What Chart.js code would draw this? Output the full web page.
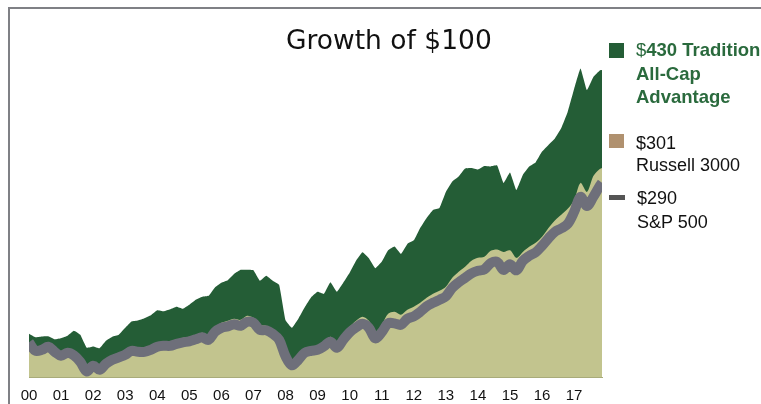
<!DOCTYPE html>
<html>
<head>
<meta charset="utf-8">
<script src="https://cdn.jsdelivr.net/npm/chart.js@4"></script>
<style>
    body { margin: 0; background: #fff; }
    #wrap { position: relative; width: 761px; height: 404px; overflow: hidden; }
    #frame { position: absolute; left: 8px; top: 7px; right: -4px; bottom: -4px;
             border-top: 2px solid #7f8085; border-left: 2px solid #7f8085; }
    canvas { position: absolute; left: 0; top: 0; }
    #title { position: absolute; left: 286px; top: 24px; width: 200px; text-align: center;
             font-family: "DejaVu Sans", sans-serif; font-size: 26.5px; color: #111;
             white-space: nowrap; line-height: 32px; }
    .sw { position: absolute; left: 609px; }
    .lg { position: absolute; left: 636px; font-family: "Liberation Sans", Arial, sans-serif;
          font-size: 18px; white-space: nowrap; color: #111; }
</style>
</head>
<body>
<div id="wrap">
    <div id="frame"></div>
    <canvas id="growthChart" width="761" height="404"></canvas>
    <div id="title">Growth of $100</div>

    <div class="sw" style="top:43px;width:15px;height:15px;background:#245d36"></div>
    <div class="lg" style="top:38px;line-height:23.5px;color:#2a6a3d;font-weight:bold;font-size:18.5px">
        <span style="font-weight:normal">$</span>430 Tradition<br>All-Cap<br>Advantage
    </div>

    <div class="sw" style="top:134px;width:15px;height:14px;background:#b0916f"></div>
    <div class="lg" style="top:132px;line-height:22px">$301<br>Russell 3000</div>

    <div class="sw" style="top:195px;width:16px;height:5px;background:#555"></div>
    <div class="lg" style="top:186px;left:637px;line-height:24px">$290<br>S&amp;P 500</div>
</div>

<script>
// years since 2000 (x positions)
const dates = [0, 0.2, 0.4, 0.6, 0.8, 1, 1.2, 1.4, 1.6, 1.8,
    2, 2.2, 2.4, 2.6, 2.8, 3, 3.2, 3.4, 3.6, 3.8,
    4, 4.2, 4.4, 4.6, 4.8, 5, 5.2, 5.4, 5.6, 5.8,
    6, 6.2, 6.4, 6.6, 6.8, 7, 7.2, 7.4, 7.6, 7.8,
    8, 8.2, 8.4, 8.6, 8.8, 9, 9.2, 9.4, 9.6, 9.8,
    10, 10.2, 10.4, 10.6, 10.8, 11, 11.2, 11.4, 11.6, 11.8,
    12, 12.2, 12.4, 12.6, 12.8, 13, 13.2, 13.4, 13.6, 13.8,
    14, 14.2, 14.4, 14.6, 14.8, 15, 15.2, 15.4, 15.6, 15.8,
    16, 16.2, 16.4, 16.6, 16.8, 17, 17.2, 17.4, 17.6, 17.8, 17.87];

const yearTicks = ['00', '01', '02', '03', '04', '05', '06', '07', '08',
    '09', '10', '11', '12', '13', '14', '15', '16', '17'];

// Tradition All-Cap Advantage
const tradition = [100, 95.6, 96.6, 96.9, 93.1, 94.4, 97.5, 103.8, 98.8, 82.5,
    84.1, 81.9, 91.3, 96.3, 98.8, 107.5, 115.4, 116.6, 119.4, 123.1,
    129.4, 128.1, 130.6, 133.8, 131.3, 136.3, 142.5, 146.3, 147.5, 158.1,
    163.8, 166.9, 175, 180, 180, 179.4, 166.3, 172.5, 166.3, 161.3,
    116.9, 107.5, 118.8, 133.1, 145.6, 152.5, 150, 164.4, 152.5, 163.8,
    176.3, 191.3, 201.9, 194.4, 181.9, 190, 204.4, 209.1, 200, 212.5,
    216.9, 232.5, 245, 255, 257.5, 277.5, 290.6, 296.9, 306.9, 307.5,
    305.6, 310, 309.4, 310.6, 288.8, 301.9, 280, 298.8, 309.4, 314.4,
    327.9, 336.3, 344.4, 357.5, 377.5, 406.3, 432, 405, 421.3, 429.4, 430];

// Russell 3000
const russell = [87.5, 81.3, 82.5, 86.3, 80, 75, 78.8, 76.3, 67.5, 56.3,
    62.5, 57.5, 65, 70, 73.8, 77.5, 82.5, 81.3, 82.5, 85,
    88.8, 90, 90, 92.5, 95, 96.3, 98.8, 101.3, 98.8, 108.1,
    113.8, 116.3, 118.8, 117.5, 122.5, 120, 111.3, 110, 105, 97.5,
    76.3, 65, 71.3, 81.3, 83.8, 85, 90, 96.3, 88.8, 98.8,
    108.8, 116.3, 121.3, 116.3, 102.5, 111.3, 125, 127.5, 123.8, 130,
    133.8, 138.8, 145, 150, 153.8, 158.8, 170, 177.5, 183.8, 191.3,
    195, 196.3, 203.8, 205.6, 202.5, 204.4, 195, 202.5, 208.8, 213.8,
    221.3, 232.5, 241.9, 248.8, 256.3, 267.5, 288.8, 277.5, 297.5, 306.3, 307.5];

// S&P 500
const sp500 = [89.4, 78.8, 80, 83.8, 77.5, 72.5, 76.3, 73.1, 65, 52.9,
    60, 55, 62.5, 67.5, 70.6, 73.8, 78.8, 77.5, 77.5, 80,
    83.8, 85, 85, 87.5, 89.4, 90.6, 93.1, 95.6, 92.5, 102.5,
    107.5, 109.4, 111.9, 110, 115, 113.8, 105, 104.4, 100, 92.5,
    71.9, 60.6, 67.5, 76.3, 78.8, 80, 84.4, 90, 82.5, 92.5,
    101.9, 108.1, 112.5, 107.5, 94.4, 101.9, 113.1, 113.1, 111.3, 118.8,
    121.9, 127.5, 134.4, 138.8, 142.5, 146.9, 157.5, 164.4, 170, 175.6,
    178.8, 180.6, 188.4, 190, 180, 186.9, 179.4, 191.3, 197.5, 201.9,
    210, 219.4, 227.5, 231.9, 237.5, 252.5, 271.3, 260, 271.3, 285, 289];

function toPoints(values) {
    return values.map((v, i) => ({ x: dates[i], y: v }));
}

const ctx = document.getElementById('growthChart').getContext('2d');

new Chart(ctx, {
    type: 'line',
    data: {
        datasets: [
            {
                label: 'S&P 500',
                data: toPoints(sp500),
                borderColor: '#6e6f7a',
                borderWidth: 10,
                fill: false,
                tension: 0.35,
                pointRadius: 0
            },
            {
                label: 'Russell 3000',
                data: toPoints(russell),
                borderWidth: 0,
                backgroundColor: '#c2c48e',
                fill: 'start',
                tension: 0.3,
                pointRadius: 0
            },
            {
                label: 'Tradition All-Cap Advantage',
                data: toPoints(tradition),
                borderWidth: 0,
                backgroundColor: '#245d36',
                fill: 'start',
                tension: 0.1,
                pointRadius: 0
            }
        ]
    },
    options: {
        responsive: false,
        animation: false,
        devicePixelRatio: 1,
        layout: { padding: { left: 29, right: 159, top: 54, bottom: 0 } },
        plugins: {
            legend: { display: false },
            tooltip: { enabled: false },
            title: { display: false }
        },
        scales: {
            x: {
                type: 'linear',
                min: 0,
                max: 17.87,
                grid: { display: false, drawTicks: false },
                border: { display: true, color: '#a8ab7a', width: 1 },
                afterBuildTicks: (scale) => {
                    scale.ticks = yearTicks.map((_, i) => ({ value: i }));
                },
                afterFit: (scale) => { scale.height = 27; },
                ticks: {
                    padding: 10,
                    color: '#111',
                    font: { family: 'Liberation Sans, Arial, sans-serif', size: 15 },
                    maxRotation: 0,
                    autoSkip: false,
                    callback: (v) => yearTicks[v] !== undefined ? yearTicks[v] : ''
                }
            },
            y: {
                display: false,
                min: 46,
                max: 450
            }
        }
    }
});
</script>
</body>
</html>
